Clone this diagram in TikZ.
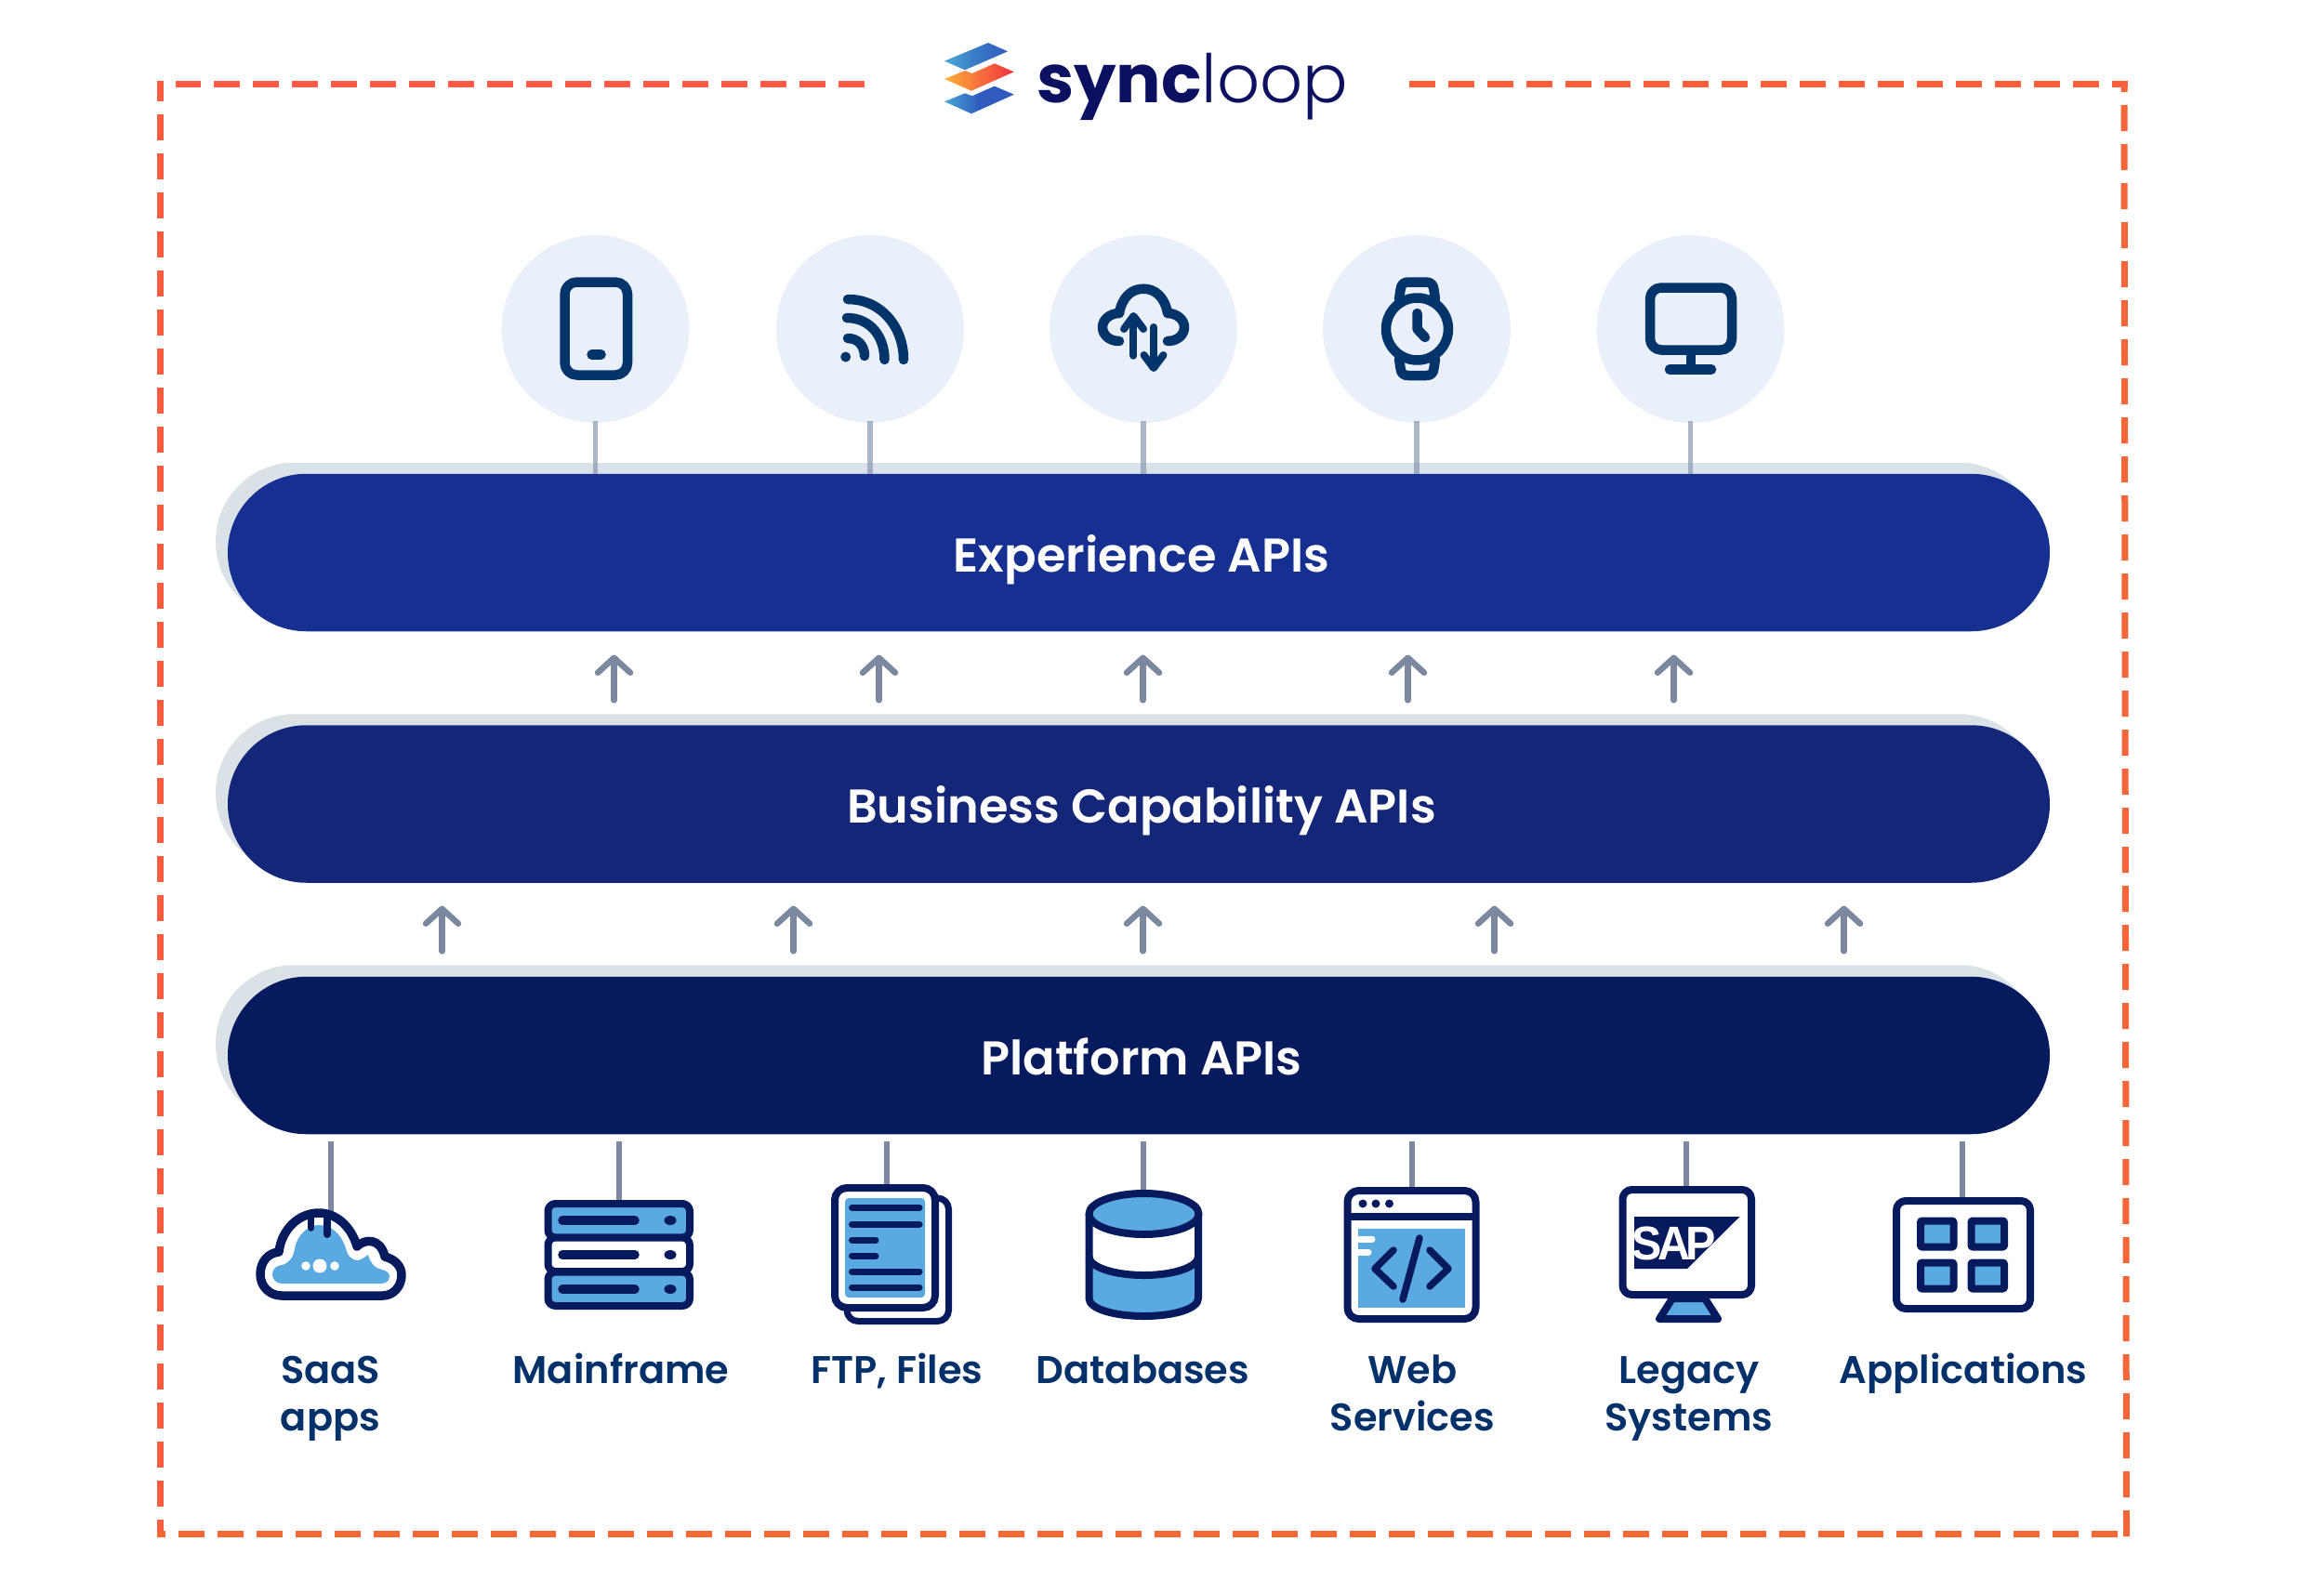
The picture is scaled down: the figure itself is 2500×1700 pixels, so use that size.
\documentclass[tikz,border=0pt]{standalone}
\usepackage{fontspec}
\usetikzlibrary{arrows.meta}
\newfontfamily\lblfont{Poppins SemiBold}
\newfontfamily\logobold{Poppins Bold}
\newfontfamily\logolight{Poppins Light}
\newfontfamily\sapfont{Liberation Sans Bold}
\definecolor{frameA}{HTML}{FF5A45}
\definecolor{frameB}{HTML}{FB5D3E}
\definecolor{frameC}{HTML}{F16935}
\definecolor{frameD}{HTML}{F4653A}
\definecolor{frameE}{HTML}{F8603C}
\definecolor{shadowgrey}{HTML}{DBE2E7}
\definecolor{expblue}{HTML}{163091}
\definecolor{bizblue}{HTML}{132677}
\definecolor{platblue}{HTML}{071A5E}
\definecolor{circlefill}{HTML}{E9F0F9}
\definecolor{linkgrey}{HTML}{7C88A0}
\definecolor{toplink}{HTML}{8A9BB3}
\definecolor{icondark}{HTML}{03346A}
\definecolor{iconnavy}{HTML}{071A5E}
\definecolor{iconblue}{HTML}{5AA9E1}
\definecolor{labelblue}{HTML}{04316A}
\definecolor{logotext}{HTML}{0B1160}
\definecolor{logoblueL}{HTML}{4AA9D6}
\definecolor{logoblueM}{HTML}{3A79C6}
\definecolor{logoblueR}{HTML}{2F5BBE}
\definecolor{logoorange}{HTML}{FDB03A}
\definecolor{logored}{HTML}{F0303F}
\tikzset{
  framedash/.style={line width=7pt,dash pattern=on 28pt off 14pt},
  pill/.style={rectangle,rounded corners=84.5pt,minimum width=1960pt,minimum height=169.5pt,inner sep=0pt,text=white,
     text height=41pt,text depth=0pt,font=\lblfont\fontsize{51}{54}\selectfont},
  pillshadow/.style={rectangle,rounded corners=84.5pt,minimum width=1960pt,minimum height=169.5pt,inner sep=0pt,fill=shadowgrey},
  iconcircle/.style={circle,fill=circlefill,minimum size=202pt,inner sep=0pt},
  toplinkline/.style={draw=toplink,line width=5.5pt,opacity=.72},
  uparrow/.style={draw=linkgrey,line width=6.5pt,line cap=round,-{Straight Barb[length=16pt,width=35pt,round]}},
  bottomlink/.style={draw=linkgrey,line width=5.7pt},
  srclabel/.style={anchor=base,align=center,inner sep=0pt,text=labelblue,font=\lblfont\fontsize{41.5}{51}\selectfont},
  topicon/.style={draw=icondark,line width=10.5pt,line cap=round,line join=round},
  navy/.style={draw=iconnavy,line width=8pt,line join=round},
  navyline/.style={draw=iconnavy,line width=8pt,line cap=round},
}
\begin{document}
\begin{tikzpicture}[x=1pt,y=-1pt]
\useasboundingbox (0,0) rectangle (2500,1700);
% frame
\coordinate (fTLa) at (930.4,90.3);
\coordinate (fTLb) at (189,90.3);
\coordinate (fLa) at (172.5,87);
\coordinate (fLb) at (172.5,1654);
\coordinate (fBa) at (169,1650.3);
\coordinate (fBb) at (2278,1650.3);
\coordinate (fRa) at (2285,87);
\coordinate (fRb) at (2287.5,1653);
\coordinate (fTRa) at (1516,90.3);
\coordinate (fTRb) at (2288.7,90.3);
\draw[framedash,frameA] (fTLa) -- (fTLb);
\draw[framedash,frameB,dash phase=6pt] (fLa) -- (fLb);
\draw[framedash,frameC,dash phase=19pt] (fBa) -- (fBb);
\draw[framedash,frameD,dash phase=16pt] (fRa) -- (fRb);
\draw[framedash,frameE] (fTRa) -- (fTRb);
% logo
\shade[left color=logoblueL,right color=logoblueR,middle color=logoblueM] (1016,65.7) -- (1063,46) -- (1084,55.3) -- (1038,75.3) -- cycle;
\shade[left color=logoorange,right color=logored] (1016,85) -- (1038,76) -- (1045.7,79) -- (1069.8,68.3) -- (1090.8,77.3) -- (1045,97.7) -- cycle;
\shade[left color=logoblueL,right color=logoblueR,middle color=logoblueR] (1016,109.3) -- (1038,100.3) -- (1045.7,103.3) -- (1069.8,92.7) -- (1090.8,101.7) -- (1045,122.3) -- cycle;
\node[anchor=base west,inner sep=0pt,text=logotext,font=\fontsize{72}{76}\selectfont] (logo) at (1115,110.7) {{\logobold sync}{\logolight loop}};
% pills
\node[pillshadow] (expS) at (1212,582.5) {};
\node[pillshadow] (bizS) at (1212,853) {};
\node[pillshadow] (platS) at (1212,1123) {};
\node[pill,fill=expblue] (exp) at (1225,594.5) {\hspace{6pt}Experience APIs};
\node[pill,fill=bizblue] (biz) at (1225,865) {\hspace{6pt}Business Capability APIs};
\node[pill,fill=platblue] (plat) at (1225,1135.5) {\hspace{6pt}Platform APIs};
% top circles
\foreach \i/\x in {1/640.5,2/936,3/1230,4/1524,5/1818.5}{
  \node[iconcircle] (c\i) at (\x,354) {};
  \draw[toplinkline] ([yshift=2pt]c\i.south) -- (c\i.south |- exp.north);
}
% arrows row 1 and 2
\foreach \i/\x in {1/660.5,2/945.5,3/1229.5,4/1514.5,5/1800.5}{
  \coordinate (ua\i) at (\x,753.3);
  \coordinate (ub\i) at (\x,704.5);
  \draw[uparrow] (ua\i) -- (ub\i);
}
\foreach \i/\x in {1/475.5,2/853.5,3/1229.5,4/1607.5,5/1983.5}{
  \coordinate (va\i) at (\x,1023.3);
  \coordinate (vb\i) at (\x,974.5);
  \draw[uparrow] (va\i) -- (vb\i);
}
% bottom links
\foreach \i/\x/\y in {1/356/1310,2/666/1292,3/954/1278,4/1230/1284,5/1519/1280,6/1814/1280,7/2111/1292}{
  \coordinate (la\i) at (\x,1228);
  \coordinate (lb\i) at (\x,\y);
  \draw[bottomlink] (la\i) -- (lb\i);
}
% --- top icons
% phone
\draw[topicon,rounded corners=13pt] (607.5,303.5) rectangle (675,403.5);
\draw[topicon] (636.5,381.5) -- (646.5,381.5);
% wifi
\fill[icondark] (909.7,384) ellipse [x radius=5.5pt,y radius=5.5pt];
\draw[topicon] (912,364) .. controls (923,364) and (930,372) .. (930,383);
\draw[topicon] (911,342) .. controls (936,342) and (951.5,362) .. (951.5,387);
\draw[topicon] (912,322) .. controls (948,322) and (972,352) .. (972,387);
% cloud
\draw[topicon] (1204,367) .. controls (1193,367) and (1186,360) .. (1186,352) .. controls (1186,344) and (1194,337) .. (1204,337) .. controls (1207,320) and (1217,310.7) .. (1230,310.7) .. controls (1243,310.7) and (1253,320) .. (1256,337) .. controls (1266,337) and (1274,344) .. (1274,352) .. controls (1274,360) and (1267,367) .. (1256,367);
\draw[topicon,line width=8pt] (1219.4,382.7) -- (1219.4,342);
\draw[topicon,line width=8pt] (1209,354) -- (1219.4,340) -- (1230,354);
\draw[topicon,line width=8pt] (1241,352) -- (1241,395);
\draw[topicon,line width=8pt] (1230.5,382) -- (1241,396) -- (1251.5,382);
% watch
\draw[topicon] (1524.5,354) circle [radius=33.5pt];
\draw[topicon] (1505,322) -- (1506.5,312) .. controls (1507,306) and (1510,303.5) .. (1515,303.5) -- (1534,303.5) .. controls (1539,303.5) and (1542,306) .. (1542.5,312) -- (1544,322);
\draw[topicon] (1505,386) -- (1506.5,396) .. controls (1507,402) and (1510,404) .. (1515,404) -- (1534,404) .. controls (1539,404) and (1542,402) .. (1542.5,396) -- (1544,386);
\draw[topicon] (1524.5,337) -- (1524.5,354) -- (1533,363);
% monitor
\draw[topicon,rounded corners=12pt] (1775,309.5) rectangle (1863,376.5);
\draw[topicon,line cap=butt] (1818.8,380) -- (1818.8,395);
\draw[topicon] (1796,397.5) -- (1841,397.5);
% --- bottom icons
% SaaS
\draw[navy,line width=9.5pt,fill=white] (303,1394) .. controls (290,1394) and (280,1384) .. (280,1371) .. controls (280,1358) and (288,1348) .. (300,1347) .. controls (303,1322) and (322,1305) .. (343,1305) .. controls (362,1305) and (378,1320) .. (384,1341) .. controls (392,1333) and (409,1331) .. (414,1352) .. controls (425,1355) and (432,1362) .. (432,1372) .. controls (432,1384) and (423,1394) .. (412,1394) -- cycle;
\fill[iconblue] (303,1381) .. controls (297,1381) and (293,1376) .. (293,1371) .. controls (293,1365) and (298,1361) .. (304,1361) .. controls (312,1358) and (316,1352) .. (317,1343) .. controls (320,1328) and (332,1318) .. (343,1318) .. controls (358,1318) and (368,1330) .. (372,1343) .. controls (374,1352) and (379,1356) .. (385,1356) .. controls (390,1355) and (393,1352) .. (396,1350) .. controls (398,1358) and (402,1364) .. (411,1366) .. controls (416,1367) and (419,1370) .. (419,1373) .. controls (419,1378) and (415,1381) .. (410,1381) -- cycle;
\draw[navyline,line width=7.5pt] (334.5,1310) -- (334.5,1321);
\draw[navyline,line width=8pt] (352,1310) -- (352,1328);
\fill[white] (329,1362) circle [radius=4.8pt] (344,1362) circle [radius=7.5pt] (360,1362) circle [radius=4.8pt];
% Mainframe
\foreach \t/\f in {1295/iconblue,1331.5/white,1368.5/iconblue}{
  \pgfmathsetmacro{\b}{\t+36.5}
  \draw[navy,fill=\f,rounded corners=8pt] (589.5,\t) rectangle (742,\b);
}
\foreach \y in {1313,1350,1387}{
  \draw[navyline,line width=9.5pt] (605,\y) -- (683,\y);
  \fill[iconnavy] (721,\y) ellipse [x radius=6.5pt,y radius=5pt];
}
% FTP
\draw[navy,line width=7pt,fill=white,rounded corners=12pt] (911,1289) rectangle (1020.5,1421.5);
\draw[navy,fill=white,rounded corners=13pt] (898,1278) rectangle (1006,1407);
\fill[iconblue,rounded corners=4pt] (909,1289) rectangle (995,1396);
\foreach \y/\e in {1299/989,1317/989,1334/942,1351/942,1368/989,1385/989}{
  \draw[navyline,line width=7pt] (916.5,\y) -- (\e,\y);
}
% Database
\fill[iconblue] (1171.5,1352) -- (1171.5,1397) .. controls (1171.5,1408) and (1198,1416) .. (1230.5,1416) .. controls (1263,1416) and (1289,1408) .. (1289,1397) -- (1289,1352) -- cycle;
\fill[white] (1171.5,1306) -- (1289,1306) -- (1289,1352) .. controls (1289,1363) and (1263,1372) .. (1230.5,1372) .. controls (1198,1372) and (1171.5,1363) .. (1171.5,1352) -- cycle;
\draw[navy] (1171.5,1306) -- (1171.5,1397) .. controls (1171.5,1408) and (1198,1416) .. (1230.5,1416) .. controls (1263,1416) and (1289,1408) .. (1289,1397) -- (1289,1306);
\draw[navy] (1171.5,1352) .. controls (1171.5,1363) and (1198,1372) .. (1230.5,1372) .. controls (1263,1372) and (1289,1363) .. (1289,1352);
\draw[navy,fill=iconblue] (1230.5,1306) ellipse [x radius=59pt,y radius=22pt];
% Web
\draw[navy,fill=white,rounded corners=12pt] (1449.5,1281) rectangle (1587.5,1419);
\draw[navy] (1449.5,1309) -- (1587.5,1309);
\fill[iconnavy] (1466,1295) circle [radius=4.5pt] (1480,1295) circle [radius=4.5pt] (1494.5,1295) circle [radius=4.5pt];
\fill[iconblue] (1461,1322) rectangle (1575.5,1407);
\draw[white,line width=7pt,line cap=round] (1461,1333) -- (1476,1333);
\draw[white,line width=7pt,line cap=round] (1461,1347) -- (1472,1347);
\fill[white] (1455,1325) rectangle (1461,1355);
\draw[navyline,line width=7.5pt,line join=round] (1499,1345) -- (1479,1365) -- (1499,1384);
\draw[navyline,line width=7.5pt,line join=round] (1538,1345) -- (1558,1365) -- (1538,1384);
\draw[navyline,line width=7.5pt] (1527,1332) -- (1509,1398);
% Legacy
\draw[navy,fill=iconblue] (1799,1397) -- (1785,1419) -- (1848,1419) -- (1834,1397) -- cycle;
\draw[navy,fill=white,rounded corners=10pt] (1745.5,1280) rectangle (1884,1393);
\fill[iconnavy] (1758,1309) -- (1871.5,1309) -- (1815,1365) -- (1758,1365) -- cycle;
\node[inner sep=0pt,text=white,xscale=.95,transform shape,font=\sapfont\fontsize{51}{54}\selectfont] (sap) at (1800.5,1337.5) {S\kern-5ptA\kern-5ptP};
% Applications
\draw[navy,fill=white,rounded corners=10pt] (2040,1292) rectangle (2184,1408);
\foreach \xa in {2066,2120.5}{
  \foreach \ya in {1313.5,1358.5}{
    \draw[navy,fill=iconblue,rounded corners=1pt] (\xa,\ya) rectangle ({\xa+35.5},{\ya+28});
  }
}
% labels
\node[srclabel] (l1) at (355.5,1539) {SaaS\\apps};
\node[srclabel] (l2) at (668,1488) {Mainframe};
\node[srclabel] (l3) at (965,1488) {FTP, Files};
\node[srclabel] (l4) at (1229.5,1488) {Databases};
\node[srclabel] (l5) at (1519.5,1539) {Web\\Services};
\node[srclabel] (l6) at (1817,1539) {Legacy\\Systems};
\node[srclabel] (l7) at (2112,1488) {Applications};
\end{tikzpicture}
\end{document}
